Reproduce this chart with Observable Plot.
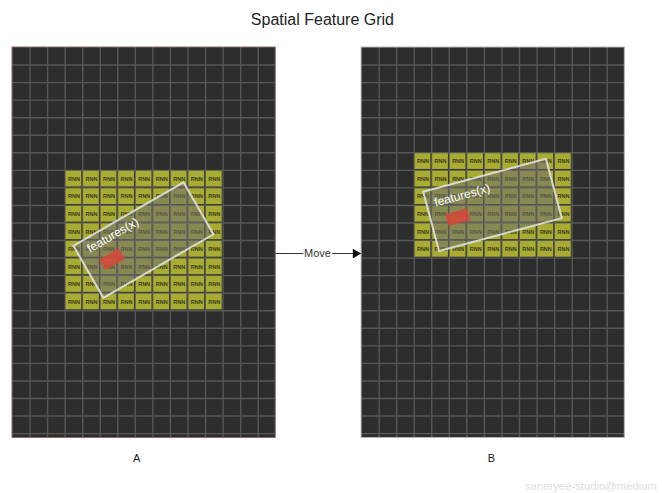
<!DOCTYPE html>
<html>
<head>
<meta charset="utf-8">
<script src="https://cdn.jsdelivr.net/npm/d3@7"></script>
<script src="https://cdn.jsdelivr.net/npm/@observablehq/plot@0.6"></script>
<style>
  html, body { margin: 0; padding: 0; background: #ffffff; overflow: hidden; }
  #chart svg { display: block; background: #ffffff; }
</style>
</head>
<body>
<div id="chart"></div>
<script>
// ---- data (grid-cell units) ----
const panels = ["A", "B"];
const panelOffset = [0, 19.89];           // panel left edge, in cells
const panelCols = 15;
const panelRows = 22.25;
const panelBorder = ["#8c6a6a", "#b8b8b8"];
const activeColStart = [3, 3];
const activeColEnd = [12, 12];
const activeRowStart = [7, 6];
const activeRowEnd = [15, 12];
const cellLabel = "RNN";

const boxCx = [7.46, 7.46];
const boxCy = [10.97, 8.97];
const boxW = [7.24, 7.24];
const boxH = [3.42, 3.5];
const boxAngle = [-30, -15];
const boxLabel = "features(x)";
const boxLabelX = [5.72, 5.73];
const boxLabelY = [10.7, 8.43];

const redCx = [5.68, 5.48];
const redCy = [12.06, 9.67];
const redW = [1.3, 1.3];
const redH = [0.7, 0.7];

const panelLabelX = [7.07, 7.4];
const panelLabelY = 23.42;

const arrowX1 = 14.99, arrowX2 = 19.55, arrowY = 11.74;
const arrowLabel = "Move";
const arrowLabelX = 17.38;

const titleText = "Spatial Feature Grid";
const titleX = 17.66, titleY = -1.6;
const watermark = "saneryee-studio@medium";
const watermarkX = 29.2, watermarkY = 25.0;

// ---- derived tables ----
const panelRects = panels.map((p, i) => ({p, x1: panelOffset[i], x2: panelOffset[i] + panelCols, y1: 0, y2: panelRows, border: panelBorder[i]}));
const vLines = [], hLines = [];
panels.forEach((p, i) => {
  for (let c = 1; c < panelCols; c++) vLines.push({x: panelOffset[i] + c, y1: 0, y2: panelRows});
  for (let r = 1; r < panelRows; r++) hLines.push({y: r, x1: panelOffset[i], x2: panelOffset[i] + panelCols});
});
const cells = [];
panels.forEach((p, i) => {
  for (let c = activeColStart[i]; c < activeColEnd[i]; c++)
    for (let r = activeRowStart[i]; r < activeRowEnd[i]; r++)
      cells.push({x1: panelOffset[i] + c, x2: panelOffset[i] + c + 1, y1: r, y2: r + 1});
});
function rotatedRect(id, cx, cy, w, h, deg) {
  const t = deg * Math.PI / 180, c = Math.cos(t), s = Math.sin(t);
  return [[-w/2, -h/2], [w/2, -h/2], [w/2, h/2], [-w/2, h/2]].map(([u, v]) => ({id, x: cx + u * c - v * s, y: cy + u * s + v * c}));
}
const boxes = panels.flatMap((p, i) => rotatedRect("box" + p, panelOffset[i] + boxCx[i], boxCy[i], boxW[i], boxH[i], boxAngle[i]));
const reds = panels.flatMap((p, i) => rotatedRect("red" + p, panelOffset[i] + redCx[i], redCy[i], redW[i], redH[i], boxAngle[i]));
const boxLabels = panels.map((p, i) => ({x: panelOffset[i] + boxLabelX[i], y: boxLabelY[i], a: boxAngle[i]}));

const W = 662, H = 493, origX = 12, origY = 47, cell = 17.55;
const font = "Liberation Sans, Arial, Helvetica, sans-serif";

const chart = Plot.plot({
  width: W, height: H,
  margin: 0,
  style: {fontFamily: font, background: "#ffffff"},
  x: {type: "linear", domain: [-origX / cell, (W - origX) / cell], range: [0, W], axis: null},
  y: {type: "linear", domain: [-origY / cell, (H - origY) / cell], range: [0, H], axis: null},
  marks: [
    Plot.rect(panelRects, {x1: "x1", x2: "x2", y1: "y1", y2: "y2", fill: "#2d2d2d"}),
    Plot.ruleX(vLines, {x: "x", y1: "y1", y2: "y2", stroke: "#575757", strokeWidth: 1.4}),
    Plot.ruleY(hLines, {y: "y", x1: "x1", x2: "x2", stroke: "#575757", strokeWidth: 1.4}),
    Plot.rect(cells, {x1: "x1", x2: "x2", y1: "y1", y2: "y2", fill: "#a9ac33", inset: 0.9}),
    Plot.text(cells, {x: d => (d.x1 + d.x2) / 2, y: d => (d.y1 + d.y2) / 2, text: () => cellLabel, fontSize: 5.5, fill: "#3b3b1c", fontWeight: "bold"}),
    Plot.rect(panelRects, {x1: "x1", x2: "x2", y1: "y1", y2: "y2", fill: "none", stroke: "border", strokeWidth: 1}),
    Plot.line(boxes, {x: "x", y: "y", z: "id", curve: "linear-closed", fill: "#6c6c6c", fillOpacity: 0.55, stroke: "#e6e6e6", strokeOpacity: 0.85, strokeWidth: 2}),
    Plot.line(reds, {x: "x", y: "y", z: "id", curve: "linear-closed", fill: "#d9473a", fillOpacity: 0.85, stroke: "none"}),
    Plot.text(boxLabels, {x: "x", y: "y", text: () => boxLabel, rotate: d => d.a, fontSize: 12, fill: "#ffffff"}),
    Plot.link([{}], {x1: () => arrowX1, x2: () => arrowX2, y1: () => arrowY, y2: () => arrowY, stroke: "#333333", strokeWidth: 1}),
    Plot.dot([{}], {x: () => arrowX2, y: () => arrowY, symbol: "triangle", r: 3.6, rotate: 90, fill: "#111111", stroke: "none"}),
    Plot.text([arrowLabel], {x: () => arrowLabelX, y: () => arrowY, text: d => d, fontSize: 11, fill: "#333333", stroke: "#ffffff", strokeWidth: 3}),
    Plot.text(panels, {x: (d, i) => panelOffset[i] + panelLabelX[i], y: () => panelLabelY, text: d => d, fontSize: 11, fill: "#222222"}),
    Plot.text([titleText], {x: () => titleX, y: () => titleY, text: d => d, fontSize: 16, fill: "#222222"}),
    Plot.text([watermark], {x: () => watermarkX, y: () => watermarkY, text: d => d, fontSize: 11.3, fill: "#dedede", textAnchor: "start"})
  ]
});
document.getElementById("chart").appendChild(chart);
</script>
</body>
</html>
